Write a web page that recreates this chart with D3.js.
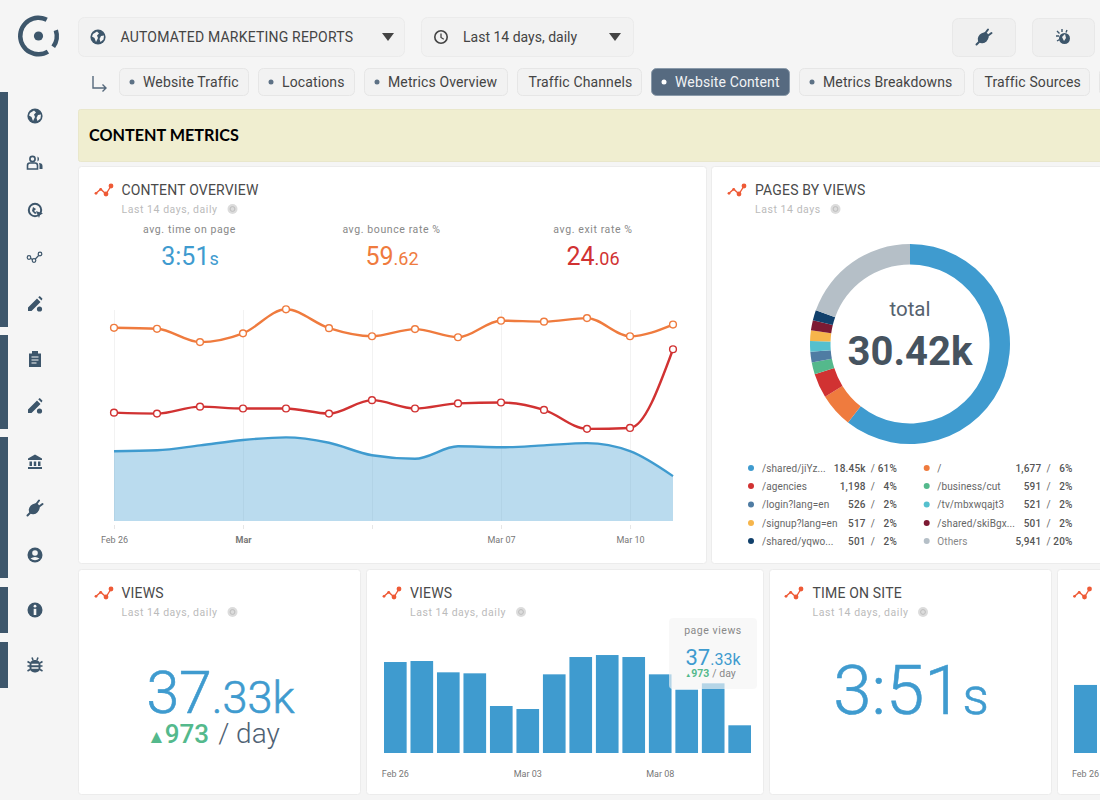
<!DOCTYPE html>
<html>
<head>
<meta charset="utf-8">
<script src="https://cdn.jsdelivr.net/npm/d3@7"></script>
<style>
  html, body { margin: 0; padding: 0; background: #f5f5f5; overflow: hidden; }
  svg { display: block; font-family: Roboto, sans-serif; }
  .axis .domain { display: none; }
</style>
</head>
<body>
<div id="page"></div>
<script>
// data
var days = ["Feb 26","Feb 27","Feb 28","Mar 01","Mar 02","Mar 03","Mar 04","Mar 05","Mar 06","Mar 07","Mar 08","Mar 09","Mar 10","Mar 11"];
var lineTicks = ["Feb 26","Mar 01","Mar 04","Mar 07","Mar 10"];
var lineTickLabels = ["Feb 26","Mar","","Mar 07","Mar 10"];
var barTicks = ["Feb 26","Mar 03","Mar 08"];

var bounceRate = [59.5,59.2,55.1,57.8,65.2,59.4,56.9,59.1,56.6,61.7,61.4,62.5,56.9,60.5];
var exitRate = [23.4,23.2,24.7,24.3,24.3,23.2,26.1,24.3,25.4,25.6,24.0,19.9,20.1,37.1];
var timeOnPage = [217.5,220.6,236,252.7,261,244,205,194,233,230,236,243,218,140];
var pageViews = [3258,3294,2889,2853,1683,1575,2817,3437,3508,3437,2817,2266,2495,992];
var timeOnSiteDays = ["Feb 26"];
var timeOnSiteBars = [232];

var pageNames = ["/shared/jiYz...","/","/agencies","/business/cut","/login?lang=en","/tv/mbxwqajt3","/signup?lang=en","/shared/skiBgx...","/shared/yqwo...","Others"];
var pageValues = [18450,1677,1198,591,526,521,517,501,501,5941];
var pageValueLabels = ["18.45k","1,677","1,198","591","526","521","517","501","501","5,941"];
var pagePercents = ["61%","6%","4%","2%","2%","2%","2%","2%","2%","20%"];
var pageColors = ["#3f9bcf","#ef7b3e","#d13232","#54b98c","#4f7ca3","#55c0ce","#f6b54b","#7d1a33","#11406b","#b5bfc7"];

var tabNames = ["Website Traffic","Locations","Metrics Overview","Traffic Channels","Website Content","Metrics Breakdowns","Traffic Sources",""];
var tabStarts = [119,258,364,517,651,799,973,1099];
var tabEnds = [249,355,508,642,790,965,1090,1140];
var tabDots = [true,true,true,false,true,true,false,false];

var navy = "#3d566b", blue = "#3f9bcf", orange = "#ef7b3e", red = "#d13232", green = "#54b98c";

var svg = d3.select("#page").append("svg").attr("width", 1100).attr("height", 800);

function text(g, x, y, str, size, color, opts) {
    opts = opts || {};
    return g.append("text").attr("x", x).attr("y", y).text(str)
        .attr("font-size", size).attr("fill", color)
        .attr("text-anchor", opts.anchor || "start")
        .attr("font-weight", opts.weight || 400)
        .attr("letter-spacing", opts.spacing || 0)
        .attr("font-family", opts.family || null);
}

function box(x0, y0, x1, y1, fill, stroke, r) {
    return svg.append("rect").attr("x", x0 + 0.5).attr("y", y0 + 0.5)
        .attr("width", x1 - x0 - 1).attr("height", y1 - y0 - 1)
        .attr("rx", r).attr("fill", fill).attr("stroke", stroke);
}

// mixed size numbers, "37" + ".33k"
function bigNumber(x, y, big, small, bigSize, smallSize, color, weight, thicken) {
    var t = svg.append("text").attr("x", x).attr("y", y).attr("text-anchor", "middle")
        .attr("fill", color).attr("font-weight", weight);
    if (thicken) t.attr("stroke", color).attr("stroke-width", thicken);
    t.append("tspan").attr("font-size", bigSize).text(big);
    t.append("tspan").attr("font-size", smallSize).text(small);
}

// 1. Sidebar
var sideBars = [[92,327],[335,429],[437,578],[587,633],[642,688]];
sideBars.forEach(function (d) {
    svg.append("rect").attr("x", 0).attr("y", d[0]).attr("width", 8).attr("height", d[1] - d[0]).attr("fill", navy);
});

function icon(name, x, y, color) {
    var g = svg.append("g").attr("transform", "translate(" + x + "," + y + ")")
        .attr("fill", color || navy).attr("stroke", "none");
    var bg = "#f5f5f5";
    if (name == "globe") {
        g.append("circle").attr("r", 7.6);
        g.append("path").attr("fill", bg).attr("d", "M-5,-3 L-1,-5.5 L1,-3.5 L-1,-1.5 L0,1 L-2,5 L-3.5,1 L-6,-0.5Z M3,-1 L6,-1.5 L5.5,2.5 L2.5,5 L1.5,2Z");
    } else if (name == "users") {
        g.append("circle").attr("cx", -2.5).attr("cy", -4).attr("r", 2.6).attr("fill", "none").attr("stroke", navy).attr("stroke-width", 1.6);
        g.append("path").attr("d", "M-7.5,6 V2.5 Q-7.5,0 -5,0 H0 Q2.5,0 2.5,2.5 V6Z").attr("fill", "none").attr("stroke", navy).attr("stroke-width", 1.6);
        g.append("path").attr("d", "M2.5,-6.5 A2.8,2.8 0 0 1 2.5,-1.5Z M4,0 Q7.5,0 7.5,3 V6 H4.5 V2Z");
    } else if (name == "cursor") {
        g.append("circle").attr("r", 6.2).attr("fill", "none").attr("stroke", navy).attr("stroke-width", 2);
        g.append("path").attr("d", "M-2,-3 L1,-1 L-1,1 L2,3 L0,4 L-3,1Z");
        g.append("path").attr("d", "M1,1 L8,3.5 L5,5 L4,8Z");
    } else if (name == "nodes") {
        g.append("path").attr("d", "M-5,1 L-1,3.5 L5,-3").attr("fill", "none").attr("stroke", navy).attr("stroke-width", 1.3);
        [[-6,0.5],[-1,3.5],[5,-3]].forEach(function (p) {
            g.append("circle").attr("cx", p[0]).attr("cy", p[1]).attr("r", 1.8).attr("fill", bg).attr("stroke", navy).attr("stroke-width", 1.2);
        });
    } else if (name == "pen") {
        g.append("path").attr("d", "M-7,7 L-7,3.5 L2,-5.5 L5.5,-2 L-3.5,7Z M3.2,-6.7 L4.8,-8 L7.5,-5.3 L6.5,-3.5Z");
        g.append("circle").attr("cx", 4.5).attr("cy", 5).attr("r", 2.6);
    } else if (name == "clipboard") {
        g.append("path").attr("d", "M-6,-5.5 H-3 V-8 H3 V-5.5 H6 V8 H-6Z");
        g.append("path").attr("d", "M-3.5,-2 H3.5 M-3.5,1 H3.5 M-3.5,4 H1.5").attr("stroke", bg).attr("stroke-width", 1.2);
    } else if (name == "bank") {
        g.append("path").attr("d", "M0,-7.5 L7,-3.5 V-2 H-7 V-3.5Z M-5.5,-0.5 H-3 V4 H-5.5Z M-1.2,-0.5 H1.2 V4 H-1.2Z M3,-0.5 H5.5 V4 H3Z M-7,5 H7 V7 H-7Z");
    } else if (name == "plug") {
        g.append("ellipse").attr("cx", -0.8).attr("cy", 0.8).attr("rx", 6).attr("ry", 4.8).attr("transform", "rotate(-45 -0.8 0.8)");
        g.append("path").attr("d", "M-4.5,4.5 L-7.5,7.5 M1,-3.5 L4,-7.5 M3.5,-1 L7.5,-4").attr("stroke", navy).attr("stroke-width", 2).attr("stroke-linecap", "round");
    } else if (name == "user") {
        g.append("circle").attr("r", 7.5);
        g.append("circle").attr("cy", -2).attr("r", 2.8).attr("fill", bg);
        g.append("path").attr("d", "M-4.5,3.5 Q0,0.5 4.5,3.5 Q0,7 -4.5,3.5Z").attr("fill", bg);
    } else if (name == "info") {
        g.append("circle").attr("r", 7.5);
        g.append("circle").attr("cy", -3.8).attr("r", 1.4).attr("fill", bg);
        g.append("rect").attr("x", -1.3).attr("y", -1.2).attr("width", 2.6).attr("height", 6.2).attr("fill", bg);
    } else if (name == "bug") {
        g.append("rect").attr("x", -5.5).attr("y", -5).attr("width", 11).attr("height", 12.5).attr("rx", 5);
        g.append("path").attr("d", "M-7.5,-3.5 L-5,-2 M7.5,-3.5 L5,-2 M-7.5,1 H-5 M7.5,1 H5 M-7.5,6 L-5,4.5 M7.5,6 L5,4.5 M-3,-7.5 L-2,-5 M3,-7.5 L2,-5").attr("stroke", navy).attr("stroke-width", 1.6);
        g.append("path").attr("d", "M-3.5,-0.5 H3.5 M-3.5,3 H3.5").attr("stroke", bg).attr("stroke-width", 1.3);
    } else if (name == "burst") {
        g.append("circle").attr("cx", 1.5).attr("cy", 1.5).attr("r", 5.5);
        g.append("path").attr("d", "M-1,0 L2,-3 L3,1 L1,4Z").attr("fill", "#eee");
        g.append("path").attr("d", "M-7,-1 H-4 M-6,-6 L-3.5,-3.5 M-1,-8 V-5 M4,-7 L3,-4.5 M-6,4 L-3.5,2.5").attr("stroke", navy).attr("stroke-width", 1.4);
    } else if (name == "clock") {
        g.append("circle").attr("r", 6.2).attr("fill", "none").attr("stroke", "#444").attr("stroke-width", 1.6);
        g.append("path").attr("d", "M0,-3.5 V0.5 L2.8,2.2").attr("fill", "none").attr("stroke", "#444").attr("stroke-width", 1.3);
    }
}

var sideIcons = ["globe","users","cursor","nodes","pen","clipboard","pen","bank","plug","user","info","bug"];
var sideIconY = [116,163,210,257,304,359,406,462,508,555,610,665];
sideIcons.forEach(function (name, i) { icon(name, 35, sideIconY[i]); });

// 2. Logo and top bar
var logo = svg.append("g").attr("transform", "translate(38.5,36)");
var logoArc = d3.arc().innerRadius(16).outerRadius(20.5);
[[1.25, 2.2], [2.6, 6.75]].forEach(function (a) {
    logo.append("path").attr("fill", navy).attr("d", logoArc({startAngle: a[0], endAngle: a[1]}));
});
logo.append("circle").attr("r", 4.6).attr("fill", navy);

box(78, 17, 405, 57, "#f2f2f2", "#ebebeb", 6);
box(421, 17, 634, 57, "#f2f2f2", "#ebebeb", 6);
box(952, 18, 1016, 57, "#f0f0f0", "#e8e8e8", 6);
box(1032, 18, 1095, 57, "#f0f0f0", "#e8e8e8", 6);
icon("globe", 98, 37, "#3d566b");
icon("clock", 441, 37);
icon("plug", 984, 37);
icon("burst", 1063, 37);
text(svg, 120.5, 42, "AUTOMATED MARKETING REPORTS", 14, "#444", {spacing: 0.2});
text(svg, 463, 42, "Last 14 days, daily", 14, "#444");
svg.append("path").attr("d", "M382,33 H394 L388,41Z").attr("fill", "#444");
svg.append("path").attr("d", "M609,33 H621 L615,41Z").attr("fill", "#444");

// 3. Tabs
svg.append("path").attr("d", "M93,76 V88 H106 M102.5,84.5 L106,88 L102.5,91.5").attr("fill", "none").attr("stroke", "#56697c").attr("stroke-width", 1.4);
tabNames.forEach(function (name, i) {
    var active = name == "Website Content";
    box(tabStarts[i], 68, tabEnds[i], 96, active ? "#566a80" : "#f2f2f2", active ? "#8a9aaa" : "#e6e6e6", 5);
    var tx = tabDots[i] ? tabStarts[i] + 24 : tabStarts[i] + 11.5;
    if (tabDots[i]) {
        svg.append("circle").attr("cx", tabStarts[i] + 13).attr("cy", 82).attr("r", 2.5).attr("fill", active ? "#fff" : "#5d7185");
    }
    text(svg, tx, 87, name, 14, active ? "#f1f3f5" : "#444", {spacing: 0.13});
});

// 4. Banner and cards
box(78, 109, 1120, 162, "#f0eed0", "#e9e7cb", 2);
text(svg, 89, 141, "CONTENT METRICS", 16.2, "#000", {family: "Lato", weight: 700});

box(78, 166, 707, 564, "#fff", "#ececec", 3);
box(711, 166, 1120, 564, "#fff", "#ececec", 3);
box(78, 569, 361, 795, "#fff", "#ececec", 3);
box(366, 569, 764, 795, "#fff", "#ececec", 3);
box(769, 569, 1052, 795, "#fff", "#ececec", 3);
box(1057, 569, 1130, 795, "#fff", "#ececec", 3);

function titleIcon(x, y) {
    var g = svg.append("g").attr("transform", "translate(" + x + "," + y + ")");
    g.append("path").attr("d", "M1,-1.7 L5.7,-5.7 L11,-1 L16,-9").attr("fill", "none").attr("stroke", "#ee5a36").attr("stroke-width", 1.4);
    [[1,-1.7,1.4],[5.7,-5.7,1.4],[11,-1,2.4],[16,-9,2.4]].forEach(function (p) {
        g.append("circle").attr("cx", p[0]).attr("cy", p[1]).attr("r", p[2]).attr("fill", "#ee5a36");
    });
}

function cardTitle(iconX, x, y, title, sub, infoX) {
    titleIcon(iconX, y);
    if (title) text(svg, x, y, title, 14, "#4a4a4a", {spacing: 0.18});
    if (sub) {
        text(svg, x, y + 17.5, sub, 10.5, "#bbb", {spacing: 0.55});
        svg.append("circle").attr("cx", infoX).attr("cy", y + 14).attr("r", 5).attr("fill", "#dcdcdc");
        svg.append("circle").attr("cx", infoX).attr("cy", y + 14).attr("r", 2.4).attr("fill", "none").attr("stroke", "#bdbdbd").attr("stroke-width", 1);
    }
}

cardTitle(95, 121.5, 195, "CONTENT OVERVIEW", "Last 14 days, daily", 232.5);
cardTitle(728, 755, 195, "PAGES BY VIEWS", "Last 14 days", 835.5);
cardTitle(95, 121.5, 598, "VIEWS", "Last 14 days, daily", 232.5);
cardTitle(383, 410, 598, "VIEWS", "Last 14 days, daily", 521);
cardTitle(785, 812.5, 598, "TIME ON SITE", "Last 14 days, daily", 923);
cardTitle(1073.5, 1100, 598, "", "", 0);

// 5. KPI row of the line chart
text(svg, 189.5, 233, "avg. time on page", 10.5, "#888", {anchor: "middle", spacing: 0.6});
text(svg, 391.5, 233, "avg. bounce rate %", 10.5, "#888", {anchor: "middle", spacing: 0.6});
text(svg, 593, 233, "avg. exit rate %", 10.5, "#888", {anchor: "middle", spacing: 0.6});
bigNumber(190, 265, "3:51", "s", 25, 18, blue, 400);
bigNumber(392, 265, "59", ".62", 25, 18, orange, 400);
bigNumber(593, 265, "24", ".06", 25, 18, red, 400);

// 6. Line chart
var x = d3.scalePoint().domain(days).range([114, 673]);
var yBounce = d3.scaleLinear().domain([0, 77]).range([521, 271]);
var yExit = d3.scaleLinear().domain([0, 54]).range([521, 271]);
var yTime = d3.scaleLinear().domain([0, 780]).range([521, 271]);

var chartLayer = svg.append("g");
chartLayer.append("g").attr("class", "axis").attr("transform", "translate(0,521)")
    .call(d3.axisBottom(x).tickValues(lineTicks).tickSize(-211).tickFormat(""))
    .selectAll("line").attr("stroke", "#f2f2f2");

var tickAxis = chartLayer.append("g").attr("class", "axis").attr("transform", "translate(0,525)")
    .call(d3.axisBottom(x).tickValues(lineTicks).tickSize(4).tickPadding(7.6)
        .tickFormat(function (d, i) { return lineTickLabels[i]; }));
tickAxis.selectAll("line").attr("stroke", "#e6e6e6");
tickAxis.selectAll("text").attr("font-family", "Roboto").attr("font-size", 9).attr("fill", "#777")
    .attr("font-weight", function (d) { return d == "Mar 01" ? 700 : 400; });

var area = d3.area().x(function (d, i) { return x(days[i]); }).y0(yTime(0)).y1(function (d) { return yTime(d); }).curve(d3.curveMonotoneX);
function lineFor(scale) {
    return d3.line().x(function (d, i) { return x(days[i]); }).y(function (d) { return scale(d); }).curve(d3.curveMonotoneX);
}

chartLayer.append("path").datum(timeOnPage).attr("d", area).attr("fill", blue).attr("opacity", 0.36);
chartLayer.append("path").datum(timeOnPage).attr("d", lineFor(yTime)).attr("fill", "none").attr("stroke", blue).attr("stroke-width", 2.4);

[[bounceRate, yBounce, orange], [exitRate, yExit, red]].forEach(function (s) {
    chartLayer.append("path").datum(s[0]).attr("d", lineFor(s[1])).attr("fill", "none").attr("stroke", s[2]).attr("stroke-width", 2.4);
    chartLayer.selectAll(null).data(s[0]).enter().append("circle")
        .attr("cx", function (d, i) { return x(days[i]); })
        .attr("cy", function (d) { return s[1](d); })
        .attr("r", 3.4).attr("fill", "#fff").attr("stroke", s[2]).attr("stroke-width", 1.4);
});

// 7. Donut
var pie = d3.pie().sort(null)(pageValues);
var arc = d3.arc().innerRadius(79.5).outerRadius(100);
svg.append("g").attr("transform", "translate(910,344)").selectAll("path").data(pie).enter().append("path")
    .attr("d", arc).attr("fill", function (d, i) { return pageColors[i]; });
text(svg, 910, 316, "total", 20.5, "#55626e", {anchor: "middle"});
text(svg, 910, 365, "30.42k", 40, "#46535f", {anchor: "middle", weight: 700});

// 8. Donut legend
var legendRows = [468, 486, 504.5, 523, 541];
pageNames.forEach(function (name, i) {
    var col = i % 2, rowY = legendRows[Math.floor(i / 2)];
    var dx = col ? 175.7 : 0;
    svg.append("circle").attr("cx", 751 + dx).attr("cy", rowY).attr("r", 3).attr("fill", pageColors[i]);
    text(svg, 762 + dx - (col ? 0.4 : 0), rowY + 3.5, name, 10, name == "Others" ? "#888" : "#666", {spacing: 0.1});
    text(svg, 865.7 + dx, rowY + 3.5, pageValueLabels[i], 10, "#555", {anchor: "end", weight: 500, spacing: 0.2});
    text(svg, 875 + dx, rowY + 3.5, "/", 10, "#666", {anchor: "end"});
    text(svg, 897 + dx, rowY + 3.5, pagePercents[i], 10, "#555", {anchor: "end", weight: 500, spacing: 0.2});
});

// 9. Views number
bigNumber(220.5, 713, "37", ".33k", 59, 45, blue, 300, 0.6);
var delta = svg.append("text").attr("x", 147).attr("y", 743);
delta.append("tspan").attr("font-size", 19).attr("fill", green).text("▲");
delta.append("tspan").attr("font-size", 26).attr("font-weight", 500).attr("fill", green).attr("dx", -1).text("973");
delta.append("tspan").attr("font-size", 28).attr("font-weight", 300).attr("fill", "#4f6274").attr("dx", 9).text("/ day");

// 10. Views bars
var xBar = d3.scaleBand().domain(days).range([384, 751]).paddingInner(0.145).paddingOuter(0);
var yBar = d3.scaleLinear().domain([0, 4000]).range([753, 641.3]);

svg.append("g").selectAll("rect").data(pageViews).enter().append("rect")
    .attr("x", function (d, i) { return xBar(days[i]); })
    .attr("y", function (d) { return yBar(d); })
    .attr("width", xBar.bandwidth())
    .attr("height", function (d) { return 753 - yBar(d); })
    .attr("fill", blue);

var barAxis = svg.append("g").attr("class", "axis").attr("transform", "translate(0,753)")
    .call(d3.axisBottom(xBar).tickValues(barTicks).tickSize(0).tickPadding(17.3));
barAxis.selectAll("text").attr("font-family", "Roboto").attr("font-size", 9).attr("fill", "#777");

svg.append("rect").attr("x", 669).attr("y", 618).attr("width", 88).attr("height", 71).attr("rx", 4).attr("fill", "rgba(244,244,244,0.65)");
text(svg, 713, 633.5, "page views", 10.5, "#888", {anchor: "middle", spacing: 0.55});
bigNumber(713, 665, "37", ".33k", 22, 16, blue, 400);
var tipDelta = svg.append("text").attr("x", 710.5).attr("y", 676.5).attr("text-anchor", "middle").attr("font-size", 10.5);
tipDelta.append("tspan").attr("font-size", 6).attr("fill", green).text("▲");
tipDelta.append("tspan").attr("font-weight", 700).attr("fill", green).text("973");
tipDelta.append("tspan").attr("fill", "#888").attr("dx", 3).text("/ day");

// 11. Time on site number
bigNumber(911, 714, "3:51", "s", 69, 52, blue, 300, 0.6);

// 12. Cut off last card
var xSite = d3.scaleBand().domain(timeOnSiteDays).range([1074, 1097]);
var ySite = d3.scaleLinear().domain([0, 300]).range([753, 665]);
svg.append("g").selectAll("rect").data(timeOnSiteBars).enter().append("rect")
    .attr("x", function (d, i) { return xSite(timeOnSiteDays[i]); })
    .attr("y", function (d) { return ySite(d); })
    .attr("width", xSite.bandwidth())
    .attr("height", function (d) { return 753 - ySite(d); })
    .attr("fill", blue);
var siteAxis = svg.append("g").attr("class", "axis").attr("transform", "translate(0,753)")
    .call(d3.axisBottom(xSite).tickSize(0).tickPadding(17.3));
siteAxis.selectAll("text").attr("font-family", "Roboto").attr("font-size", 9).attr("fill", "#777");
</script>
</body>
</html>
